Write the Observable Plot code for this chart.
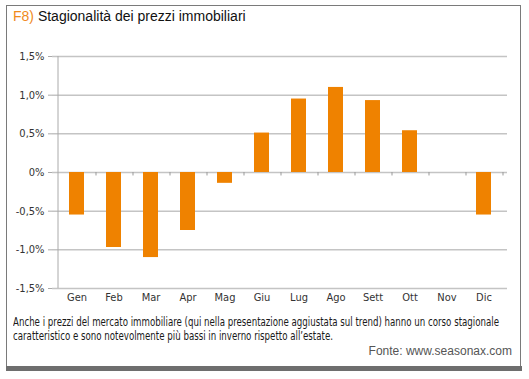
<!DOCTYPE html>
<html>
<head>
<meta charset="utf-8">
<script src="https://cdn.jsdelivr.net/npm/d3@7"></script>
<script src="https://cdn.jsdelivr.net/npm/@observablehq/plot@0.6"></script>
<style>
  html, body { margin: 0; padding: 0; background: #fff; }
  #wrap { position: relative; width: 529px; height: 379px; overflow: hidden; background: #fff; }
  #frame { position: absolute; left: 6px; top: 5px; width: 515px; height: 361px; border: 1.5px solid #7a7a7a; border-bottom: none; box-sizing: border-box; }
  #bottombar { position: absolute; left: 6px; top: 366px; width: 516px; height: 5px; background: #6e6e6e; }
  #title { position: absolute; left: 13px; top: 8px; font-family: Arial, "Liberation Sans", sans-serif; font-size: 14px; color: #111; white-space: nowrap; }
  #title .num { color: #f08a1c; }
  #chart { position: absolute; left: 0; top: 0; }
  .cap { position: absolute; left: 13px; font-family: "DejaVu Sans", sans-serif; font-stretch: condensed; font-size: 12.5px; line-height: 14px; color: #1a1a1a; white-space: nowrap; transform-origin: 0 0; }
  #source { position: absolute; right: 17px; top: 344px; font-family: Arial, "Liberation Sans", sans-serif; font-size: 12px; color: #555; white-space: nowrap; }
</style>
</head>
<body>
<div id="wrap">
  <div id="frame"></div>
  <div id="bottombar"></div>
  <div id="title"><span class="num">F8)</span> Stagionalità dei prezzi immobiliari</div>
  <div id="chart"></div>
  <div class="cap" id="cap1" style="top:315px">Anche i prezzi del mercato immobiliare (qui nella presentazione aggiustata sul trend) hanno un corso stagionale</div>
  <div class="cap" id="cap2" style="top:329px">caratteristico e sono notevolmente più bassi in inverno rispetto all’estate.</div>
  <div id="source">Fonte: www.seasonax.com</div>
</div>
<script>
const months = ["Gen","Feb","Mar","Apr","Mag","Giu","Lug","Ago","Sett","Ott","Nov","Dic"];
const values = [-0.55, -0.97, -1.1, -0.75, -0.14, 0.51, 0.95, 1.1, 0.93, 0.54, 0, -0.55];
const yTicks = [-1.5, -1.0, -0.5, 0, 0.5, 1.0, 1.5];

const data = months.map((m, i) => ({month: m, value: values[i]}));
const fmt = v => v === 0 ? "0%" : (v < 0 ? "-" : "") + Math.abs(v).toFixed(1).replace(".", ",") + "%";
const narrow = '"DejaVu Sans", sans-serif';

const chart = Plot.plot({
  width: 529,
  height: 310,
  marginLeft: 52,
  marginRight: 22,
  marginTop: 56,
  marginBottom: 22,
  style: {fontFamily: narrow, fontStretch: "condensed", fontSize: "11px", color: "#333", background: "transparent"},
  x: {domain: months, paddingInner: 0.6, paddingOuter: 0.3, label: null},
  y: {domain: [-1.5, 1.5], label: null},
  marks: [
    Plot.ruleY(yTicks, {stroke: "#c4c4c4", strokeWidth: 1.5}),
    Plot.ruleX(months, {x: d => d, y1: 0, y2: -0.045, dx: 19, stroke: "#999", strokeWidth: 1}),
    Plot.barY(data, {x: "month", y: "value", fill: "#ef8200"}),
    Plot.ruleX([0], {x: () => months[0], dx: -19, y1: -1.5, y2: 1.5, stroke: "#aaa", strokeWidth: 1}),
    Plot.axisY({ticks: yTicks, tickFormat: fmt, tickSize: 4, tickPadding: 4, stroke: "#aaa", fill: "#333", fontSize: 11}),
    Plot.axisX({tickSize: 0, tickPadding: 5, fill: "#333", fontSize: 11})
  ]
});
document.getElementById("chart").appendChild(chart);

// fit caption lines to the reference widths
[["cap1", 486], ["cap2", 320]].forEach(([id, w]) => {
  const el = document.getElementById(id);
  const actual = el.getBoundingClientRect().width;
  if (actual > 0) el.style.transform = `scaleX(${w / actual})`;
});
</script>
</body>
</html>
